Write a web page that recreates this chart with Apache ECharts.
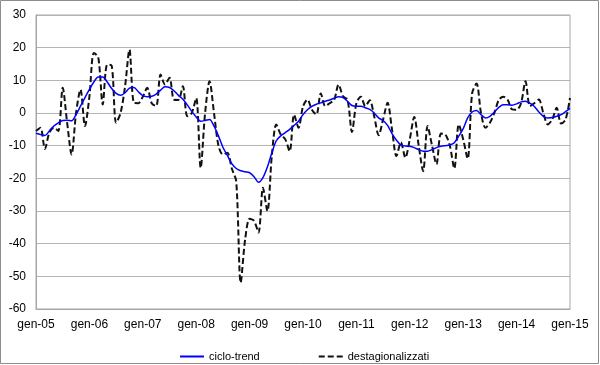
<!DOCTYPE html>
<html>
<head>
<meta charset="utf-8">
<script src="https://cdn.jsdelivr.net/npm/echarts@6/dist/echarts.min.js"></script>
<style>
  html, body { margin: 0; padding: 0; background: #fff; }
  #chart { width: 600px; height: 365px; }
</style>
</head>
<body>
<div id="chart"></div>
<script>
const monthNames = ['gen', 'feb', 'mar', 'apr', 'mag', 'giu', 'lug', 'ago', 'set', 'ott', 'nov', 'dic'];
const years = ['05', '06', '07', '08', '09', '10', '11', '12', '13', '14', '15'];

// monthly categories gen-05 .. gen-15
const months = [];
years.forEach((y, yi) => {
  monthNames.forEach((m, mi) => {
    if (yi < years.length - 1 || mi === 0) months.push(m + '-' + y);
  });
});

const cicloTrend = [
  -6.2, -6.6, -6.9, -5.5, -4, -3, -2.3, -2.2, -2.4, -0.5, 2.1, 4.7,
  7.2, 9.5, 11, 11, 9.5, 7.5, 6, 5.4, 6.2, 7.6, 7.8, 6.5,
  5.3, 5, 5.1, 5.8, 7, 8, 7.8, 6.8, 5.4, 4.2, 2.5, 0.5,
  -1.2, -2.5, -2.3, -2, -4, -7, -10.5, -13, -15.5, -17, -17.7, -18,
  -18.3, -19.5, -21.2, -19.8, -16.5, -12.2, -8.5, -7, -6, -5, -3.8, -2.5,
  -0.5, 1, 2, 2.7, 3.1, 3.6, 4, 4.5, 5, 4.7, 3.6, 2.3,
  2.1, 2.1, 1.6, 1.1, 0, -1.5, -2.3, -3.8, -6.3, -8.3, -9.8, -10.1,
  -10.2, -10.6, -11.2, -11.7, -11.7, -11.2, -10.6, -10.2, -10, -9.8, -9.1, -7.1,
  -4.8, -1.5, 0.3, 0.8, -0.5, -1.5, -1, 0.3, 1.7, 2.5, 2.5, 2.4,
  2.8, 3.4, 3.6, 3, 2, 0.3, -1, -1.5, -1.4, -1, -0.5, 0.4,
  1.4
];

const destagionalizzati = [
  -5.5, -4.5, -11, -6, -4.5, -5.5, 7.7, -3, -12.7, 0, 7.2, -4,
  5, 18.4, 17, 2.6, 14.8, 14.5, -3, 0, 8, 19.4, 3.1, 3,
  5, 7.7, 3, 2.1, 11.8, 8.7, 10.8, 4.1, 4, 8.2, -1, 0,
  4.6, -16.8, 0, 9.7, 0, -10, -12.7, -12.2, -17, -21, -51.9, -38.7,
  -32.4, -33, -36.6, -22.9, -30, -13, -3.5, -6.6, -8, -11.7, -0.5, -4.5,
  2, 4.1, 1, -0.5, 6, 2.1, 3, 4, 8.7, 5.1, 4.1, -5.8,
  3, 5, 2.1, 3.9, -1, -6.8, -2, 3.1, -5, -13.2, -9, -13.7,
  -8, -1.2, -10, -17.8, -4, -10, -15.7, -6.3, -6.6, -10, -17, -3.5,
  -8.1, -14, 6, 9, 0, -4.5, -3, 0, 4, 5, 4, 1.1,
  1, 3, 9.7, 2.1, 3, 4.1, 0, -3.5, -2, 1.6, -3.2, -2,
  4.6
];

const font = 'Liberation Sans, Arial, sans-serif';
const chart = echarts.init(document.getElementById('chart'));

chart.setOption({
  animation: false,
  backgroundColor: '#fff',
  textStyle: { fontFamily: font },
  graphic: [
    {
      type: 'rect',
      shape: { x: 0.5, y: 0.5, width: 598, height: 363 },
      style: { fill: 'none', stroke: '#8c8c8c', lineWidth: 1 },
      silent: true
    }
  ],
  grid: {
    left: 36,
    right: 30,
    top: 15,
    bottom: 56,
    show: true,
    borderColor: '#a6a6a6',
    borderWidth: 1
  },
  legend: {
    left: 174,
    top: 346,
    itemWidth: 24,
    itemHeight: 10,
    itemGap: 58,
    itemStyle: { opacity: 0 },
    textStyle: { fontFamily: font, fontSize: 11, color: '#000' },
    data: ['ciclo-trend', 'destagionalizzati']
  },
  xAxis: {
    type: 'category',
    data: months,
    boundaryGap: false,
    axisLine: { onZero: false, lineStyle: { color: '#a6a6a6' } },
    axisTick: { show: false },
    axisLabel: {
      interval: 11,
      margin: 10,
      color: '#000',
      fontSize: 12,
      fontFamily: font
    },
    splitLine: { show: false }
  },
  yAxis: {
    type: 'value',
    min: -60,
    max: 30,
    interval: 10,
    axisLine: { show: true, lineStyle: { color: '#a6a6a6' } },
    axisTick: { show: false },
    axisLabel: { margin: 10, color: '#000', fontSize: 12, fontFamily: font },
    splitLine: { lineStyle: { color: '#b4b4b4', width: 1 } }
  },
  series: [
    {
      name: 'ciclo-trend',
      type: 'line',
      data: cicloTrend,
      smooth: 0.3,
      symbol: 'none',
      z: 3,
      lineStyle: { color: '#0000ff', width: 1.5 },
      itemStyle: { color: '#0000ff' }
    },
    {
      name: 'destagionalizzati',
      type: 'line',
      data: destagionalizzati,
      smooth: 0.3,
      symbol: 'none',
      z: 2,
      lineStyle: { color: '#111', width: 2, type: [6, 3] },
      itemStyle: { color: '#111' }
    }
  ]
});
</script>
</body>
</html>
